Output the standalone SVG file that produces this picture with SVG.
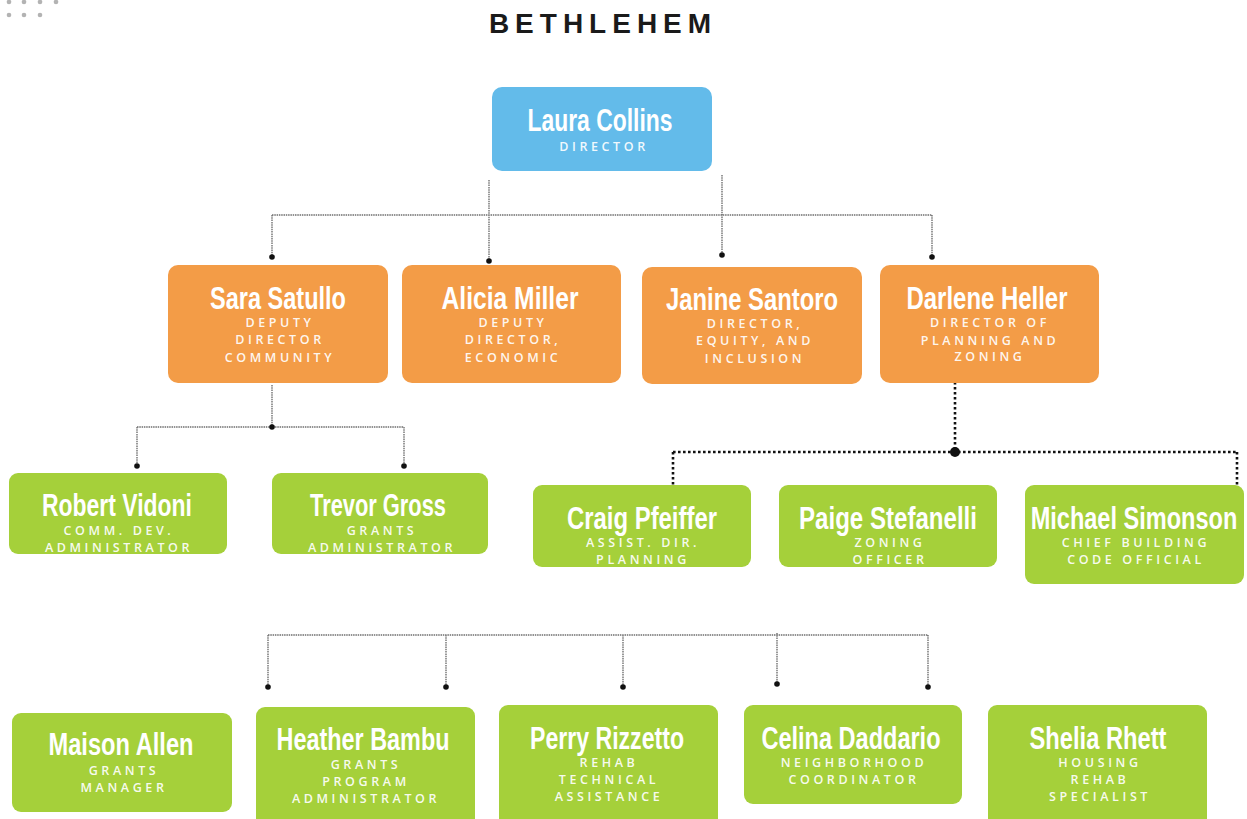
<svg xmlns="http://www.w3.org/2000/svg" width="1247" height="819" viewBox="0 0 1247 819">
<style>
.bg{fill:#ffffff}
.blue{fill:#63bbea}
.orange{fill:#f39c47}
.green{fill:#a5d03a}
.name{font-family:"Liberation Sans",Arial,sans-serif;font-weight:bold;font-size:31px;fill:#ffffff;text-anchor:middle}
.sub{font-family:"Open Sans","Liberation Sans",Arial,sans-serif;font-weight:600;font-size:12.5px;letter-spacing:3.6px;fill:#ffffff;fill-opacity:0.93;text-anchor:middle}
.title{font-family:"Liberation Sans",Arial,sans-serif;font-weight:bold;font-size:28px;letter-spacing:6px;fill:#1a1a1a;text-anchor:middle}
.grey{fill:none;stroke:#6f6f6f;stroke-width:1.4;stroke-dasharray:1.5 0.8}
.black{fill:none;stroke:#111;stroke-width:2.6;stroke-dasharray:2.6 2.4}
.dot{fill:#111}
.deco{fill:#b3b3b3}
</style>
<rect class="bg" x="0" y="0" width="1247" height="819"/>
<g id="decoration">
<circle class="deco" cx="9" cy="2" r="2.3"/><circle class="deco" cx="24" cy="2" r="2.3"/><circle class="deco" cx="40" cy="2" r="2.3"/><circle class="deco" cx="56" cy="2" r="2.3"/>
<circle class="deco" cx="9" cy="15" r="2.3"/><circle class="deco" cx="24" cy="15" r="2.3"/><circle class="deco" cx="40" cy="15" r="2.3"/>
</g>
<text id="title" class="title" x="603" y="33">BETHLEHEM</text>
<g id="connectors">
<path class="grey" d="M272 215 H932 M272 215 V257 M932 215 V257 M489 180 V261 M722 175 V255"/>
<circle class="dot" cx="272" cy="257" r="2.8"/><circle class="dot" cx="932" cy="257" r="2.8"/>
<circle class="dot" cx="489" cy="261" r="2.8"/><circle class="dot" cx="722" cy="255" r="2.8"/>
<path class="grey" d="M272 385 V427 M137 427 H404 M137 427 V466 M404 427 V466"/>
<circle class="dot" cx="272" cy="427" r="2.8"/><circle class="dot" cx="137" cy="466" r="2.8"/><circle class="dot" cx="404" cy="466" r="2.8"/>
<path class="black" d="M955 367 V452 M673 452 H1237 M673 452 V485 M1237 452 V485"/>
<circle class="dot" cx="955" cy="452" r="5"/>
<path class="grey" d="M268 635 H928 M268 635 V687 M446 635 V687 M623 635 V687 M777 633 V684 M928 635 V687"/>
<circle class="dot" cx="268" cy="687" r="2.8"/><circle class="dot" cx="446" cy="687" r="2.8"/><circle class="dot" cx="623" cy="687" r="2.8"/><circle class="dot" cx="777" cy="684" r="2.8"/><circle class="dot" cx="928" cy="687" r="2.8"/>
</g>
<g id="laura-collins">
<rect class="blue" x="492" y="87" width="220" height="84" rx="10"/>
<text class="name" x="600" y="131" textLength="145" lengthAdjust="spacingAndGlyphs">Laura Collins</text>
<text class="sub" x="604" y="151">DIRECTOR</text>
</g>
<g id="sara-satullo">
<rect class="orange" x="168" y="265" width="220" height="118" rx="10"/>
<text class="name" x="278" y="309" textLength="136" lengthAdjust="spacingAndGlyphs">Sara Satullo</text>
<text class="sub" x="280" y="327">DEPUTY</text>
<text class="sub" x="280" y="344">DIRECTOR</text>
<text class="sub" x="280" y="362">COMMUNITY</text>
</g>
<g id="alicia-miller">
<rect class="orange" x="402" y="265" width="219" height="118" rx="10"/>
<text class="name" x="510" y="309" textLength="137" lengthAdjust="spacingAndGlyphs">Alicia Miller</text>
<text class="sub" x="513" y="327">DEPUTY</text>
<text class="sub" x="513" y="344">DIRECTOR,</text>
<text class="sub" x="513" y="362">ECONOMIC</text>
</g>
<g id="janine-santoro">
<rect class="orange" x="642" y="267" width="220" height="117" rx="10"/>
<text class="name" x="752" y="310" textLength="172" lengthAdjust="spacingAndGlyphs">Janine Santoro</text>
<text class="sub" x="755" y="328">DIRECTOR,</text>
<text class="sub" x="755" y="345">EQUITY, AND</text>
<text class="sub" x="755" y="363">INCLUSION</text>
</g>
<g id="darlene-heller">
<rect class="orange" x="880" y="265" width="219" height="118" rx="10"/>
<text class="name" x="987" y="309" textLength="161" lengthAdjust="spacingAndGlyphs">Darlene Heller</text>
<text class="sub" x="990" y="327">DIRECTOR OF</text>
<text class="sub" x="990" y="345">PLANNING AND</text>
<text class="sub" x="990" y="361">ZONING</text>
</g>
<g id="robert-vidoni">
<rect class="green" x="9" y="473" width="218" height="81" rx="9"/>
<text class="name" x="117" y="516" textLength="150" lengthAdjust="spacingAndGlyphs">Robert Vidoni</text>
<text class="sub" x="119" y="535">COMM. DEV.</text>
<text class="sub" x="119" y="552">ADMINISTRATOR</text>
</g>
<g id="trevor-gross">
<rect class="green" x="272" y="473" width="216" height="81" rx="9"/>
<text class="name" x="378" y="516" textLength="136" lengthAdjust="spacingAndGlyphs">Trevor Gross</text>
<text class="sub" x="382" y="535">GRANTS</text>
<text class="sub" x="382" y="552">ADMINISTRATOR</text>
</g>
<g id="craig-pfeiffer">
<rect class="green" x="533" y="485" width="218" height="82" rx="9"/>
<text class="name" x="642" y="529" textLength="150" lengthAdjust="spacingAndGlyphs">Craig Pfeiffer</text>
<text class="sub" x="643" y="547">ASSIST. DIR.</text>
<text class="sub" x="643" y="564">PLANNING</text>
</g>
<g id="paige-stefanelli">
<rect class="green" x="779" y="485" width="218" height="82" rx="9"/>
<text class="name" x="888" y="529" textLength="178" lengthAdjust="spacingAndGlyphs">Paige Stefanelli</text>
<text class="sub" x="890" y="547">ZONING</text>
<text class="sub" x="890" y="564">OFFICER</text>
</g>
<g id="michael-simonson">
<rect class="green" x="1025" y="485" width="219" height="99" rx="9"/>
<text class="name" transform="translate(1134 529) scale(0.76 1)" x="0" y="0">Michael Simonson</text>
<text class="sub" x="1136" y="547">CHIEF BUILDING</text>
<text class="sub" x="1136" y="564">CODE OFFICIAL</text>
</g>
<g id="maison-allen">
<rect class="green" x="12" y="713" width="220" height="99" rx="9"/>
<text class="name" x="121" y="755" textLength="145" lengthAdjust="spacingAndGlyphs">Maison Allen</text>
<text class="sub" x="124" y="775">GRANTS</text>
<text class="sub" x="124" y="792">MANAGER</text>
</g>
<g id="heather-bambu">
<rect class="green" x="256" y="707" width="219" height="120" rx="9"/>
<text class="name" x="363" y="750" textLength="173" lengthAdjust="spacingAndGlyphs">Heather Bambu</text>
<text class="sub" x="366" y="769">GRANTS</text>
<text class="sub" x="366" y="786">PROGRAM</text>
<text class="sub" x="366" y="803">ADMINISTRATOR</text>
</g>
<g id="perry-rizzetto">
<rect class="green" x="499" y="705" width="219" height="122" rx="9"/>
<text class="name" x="607" y="749" textLength="154" lengthAdjust="spacingAndGlyphs">Perry Rizzetto</text>
<text class="sub" x="609" y="767">REHAB</text>
<text class="sub" x="609" y="784">TECHNICAL</text>
<text class="sub" x="609" y="801">ASSISTANCE</text>
</g>
<g id="celina-daddario">
<rect class="green" x="744" y="705" width="218" height="99" rx="9"/>
<text class="name" x="851" y="749" textLength="179" lengthAdjust="spacingAndGlyphs">Celina Daddario</text>
<text class="sub" x="854" y="767">NEIGHBORHOOD</text>
<text class="sub" x="854" y="784">COORDINATOR</text>
</g>
<g id="shelia-rhett">
<rect class="green" x="988" y="705" width="219" height="122" rx="9"/>
<text class="name" x="1098" y="749" textLength="137" lengthAdjust="spacingAndGlyphs">Shelia Rhett</text>
<text class="sub" x="1100" y="767">HOUSING</text>
<text class="sub" x="1100" y="784">REHAB</text>
<text class="sub" x="1100" y="801">SPECIALIST</text>
</g>
</svg>
